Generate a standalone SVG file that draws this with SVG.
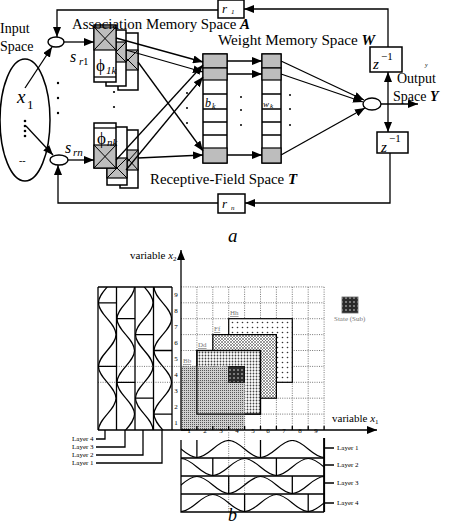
<svg xmlns="http://www.w3.org/2000/svg" width="450" height="526" viewBox="0 0 450 526">
<style>
text{font-family:"Liberation Serif","Times New Roman",serif;fill:#000}
.ln{stroke:#000;stroke-width:1.3;fill:none}
.ar{stroke:#000;stroke-width:1.3;fill:none;marker-end:url(#ah)}
.box{fill:#fff;stroke:#000;stroke-width:1.5}
.g{fill:#bdbdbd;stroke:#000;stroke-width:1.2}
.x{stroke:#000;stroke-width:1}
.grid{stroke:#555;stroke-width:0.8;stroke-dasharray:1 1.3;fill:none}
.tiny{font-size:7px;fill:#777}
.wv{stroke:#000;stroke-width:1.2;fill:none}
.it{font-style:italic}
.bi{font-style:italic;font-weight:bold}
</style>
<defs>
<marker id="ah" viewBox="0 0 10 8" refX="10" refY="4" markerWidth="10" markerHeight="8" markerUnits="userSpaceOnUse" orient="auto"><path d="M0,0 L10,4 L0,8 z"/></marker>
<pattern id="p1" width="2" height="2" patternUnits="userSpaceOnUse"><rect width="2" height="2" fill="#cfcfcf"/><rect width="1" height="1" fill="#555"/></pattern>
<pattern id="p2" width="3" height="3" patternUnits="userSpaceOnUse"><rect width="3" height="3" fill="#fff"/><circle cx="1.5" cy="1.5" r="0.9" fill="#444"/></pattern>
<pattern id="p3" width="3" height="3" patternUnits="userSpaceOnUse"><rect width="3" height="3" fill="#fff"/><path d="M0,0 L3,3 M3,0 L0,3" stroke="#555" stroke-width="0.6"/></pattern>
<pattern id="p4" width="5" height="5" patternUnits="userSpaceOnUse"><rect width="5" height="5" fill="#fff"/><circle cx="2.5" cy="2.5" r="0.8" fill="#333"/></pattern>
<pattern id="pd" width="4" height="4" patternUnits="userSpaceOnUse"><rect width="4" height="4" fill="#2a2a2a"/><circle cx="2" cy="2" r="0.8" fill="#ddd"/></pattern>
<path id="hw" d="M0,17.5 C11.58,17.5 20.22,0.5 31.8,0.5 S52.02,17.5 63.6,17.5 S83.82,0.5 95.4,0.5 S115.62,17.5 127.2,17.5 S147.42,0.5 159,0.5 S179.22,17.5 190.8,17.5 S211.02,0.5 222.6,0.5 S242.82,17.5 254.4,17.5"/>
<path id="vw" d="M0.5,0 C0.5,11.58 18,20.22 18,31.8 S0.5,52.02 0.5,63.6 S18,83.82 18,95.4 S0.5,115.62 0.5,127.2 S18,147.42 18,159 S0.5,179.22 0.5,190.8 S18,211.02 18,222.6"/>
<clipPath id="cb"><rect x="181" y="440" width="143.1" height="72"/></clipPath>
<clipPath id="cl"><rect x="98" y="287" width="74" height="143"/></clipPath>
</defs>

<!-- ===== Part a ===== -->
<g id="input-space">
<ellipse cx="25" cy="120" rx="25" ry="61" fill="none" stroke="#000" stroke-width="1.5"/>
<text x="0" y="33" font-size="14">Input</text>
<text x="0" y="51" font-size="14">Space</text>
<text x="17" y="103" font-size="19" class="it">x</text><text x="27" y="109" font-size="13">1</text>
<circle cx="25" cy="121" r="1.3"/><circle cx="25" cy="126" r="1.3"/><circle cx="25" cy="131" r="1.3"/><circle cx="25" cy="136" r="1.3"/>
<text x="19" y="164" font-size="10">--</text>
</g>
<g id="sum-1"><ellipse cx="56" cy="42" rx="8" ry="5" fill="#fff" stroke="#000" stroke-width="1.4"/></g>
<g id="sum-n"><ellipse cx="59" cy="160" rx="9" ry="5" fill="#fff" stroke="#000" stroke-width="1.4"/></g>
<g id="labels-s">
<text x="70" y="62" font-size="16" class="it">s</text><text x="79" y="65" font-size="11" class="it">r</text><text x="83" y="65" font-size="11">1</text>
<text x="65" y="153" font-size="16" class="it">s</text><text x="73" y="156" font-size="11" class="it">rn</text>
</g>
<g id="dots-a" fill="#000">
<circle cx="58" cy="83" r="1.2"/><circle cx="58" cy="98" r="1.2"/><circle cx="58" cy="113" r="1.2"/>
<circle cx="114" cy="92" r="1.1"/><circle cx="114" cy="107" r="1.1"/>
<circle cx="187" cy="93" r="1"/><circle cx="187" cy="108" r="1"/><circle cx="187" cy="123" r="1"/>
<circle cx="241" cy="97" r="1"/><circle cx="241" cy="110" r="1"/><circle cx="241" cy="125" r="1"/>
<circle cx="290" cy="95" r="1"/><circle cx="290" cy="109" r="1"/><circle cx="290" cy="125" r="1"/>
</g>

<g id="assoc-top">
<rect class="box" x="118" y="33" width="20" height="57"/><rect class="g" x="118" y="50" width="20" height="20"/><path class="x" d="M118,50 L138,70 M118,70 L138,50"/>
<rect class="box" x="106" y="30" width="20" height="56"/><rect class="g" x="106" y="42" width="20" height="20"/><path class="x" d="M106,42 L126,62 M106,62 L126,42"/>
<rect class="box" x="94" y="25" width="22" height="57"/><rect class="g" x="94" y="27" width="22" height="23"/><path class="x" d="M94,27 L116,50 M94,50 L116,27"/>
<line class="ln" x1="94" y1="77" x2="116" y2="77"/>
<text x="96" y="71" font-size="17">ϕ</text><text x="106" y="74" font-size="11" class="it">1k</text>
</g>
<g id="assoc-bottom">
<rect class="box" x="120" y="130" width="18" height="58"/><rect class="g" x="120" y="150" width="18" height="20"/><path class="x" d="M120,150 L138,170 M120,170 L138,150"/>
<rect class="box" x="107" y="127" width="20" height="58"/><rect class="g" x="107" y="158" width="20" height="20"/><path class="x" d="M107,158 L127,178 M107,178 L127,158"/>
<rect class="box" x="94" y="123" width="22" height="45"/><rect class="g" x="94" y="145" width="22" height="23"/><path class="x" d="M94,145 L116,168 M94,168 L116,145"/>
<line class="ln" x1="94" y1="128" x2="116" y2="128"/>
<text x="97" y="144" font-size="17">ϕ</text><text x="107" y="146" font-size="11" class="it">nk</text>
</g>

<g id="T-space">
<rect x="203" y="54" width="24" height="109" fill="#fff" stroke="#000" stroke-width="1.5"/>
<rect class="g" x="203" y="54" width="24" height="14"/><rect class="g" x="203" y="68" width="24" height="12"/><rect class="g" x="203" y="148" width="24" height="15"/>
<path class="ln" d="M203,94 H227 M203,109 H227 M203,122 H227 M203,135 H227"/>
<text x="205" y="107" font-size="12" class="it">b</text><text x="212" y="109" font-size="8" class="it">k</text>
</g>
<g id="W-space">
<rect x="262" y="54" width="19" height="109" fill="#fff" stroke="#000" stroke-width="1.5"/>
<rect class="g" x="262" y="54" width="19" height="14"/><rect class="g" x="262" y="68" width="19" height="12"/><rect class="g" x="262" y="148" width="19" height="15"/>
<path class="ln" d="M262,94 H281 M262,109 H281 M262,122 H281 M262,135 H281"/>
<text x="263" y="107" font-size="9" class="it">w</text><text x="270" y="108" font-size="7" class="it">k</text>
</g>
<g id="r1"><rect class="box" x="218" y="0" width="26" height="18"/><text x="222" y="13" font-size="13" class="it">r</text><text x="231" y="13.5" font-size="7" class="it">1</text></g>
<g id="rn"><rect class="box" x="218" y="194" width="27" height="19"/><text x="222" y="208" font-size="13" class="it">r</text><text x="231" y="210" font-size="7" class="it">n</text></g>
<g id="z-top"><rect class="box" x="370" y="47" width="32" height="25"/><text x="373" y="69" font-size="15" class="it">z</text><text x="381" y="60" font-size="11">−1</text></g>
<g id="z-bottom"><rect class="box" x="377" y="132" width="31" height="21"/><text x="381" y="152" font-size="15" class="it">z</text><text x="389" y="142" font-size="11">−1</text></g>
<g id="output">
<ellipse cx="372" cy="104" rx="9" ry="6" fill="#fff" stroke="#000" stroke-width="1.4"/>
<text x="425" y="67" font-size="6" class="it">y</text>
<text x="397" y="83" font-size="14">Output</text>
<text x="393" y="101" font-size="14">Space <tspan class="bi">Y</tspan></text>
</g>
<g id="titles-a">
<text x="72" y="29" font-size="15" textLength="178" lengthAdjust="spacingAndGlyphs">Association Memory Space <tspan class="bi">A</tspan></text>
<text x="218" y="45" font-size="15" textLength="157" lengthAdjust="spacingAndGlyphs">Weight Memory Space <tspan class="bi">W</tspan></text>
<text x="150" y="184" font-size="15" textLength="147" lengthAdjust="spacingAndGlyphs">Receptive-Field Space <tspan class="bi">T</tspan></text>
<text x="228" y="242" font-size="19" class="it">a</text>
</g>

<g id="connectors-a">
<line class="ar" x1="25" y1="88" x2="52" y2="47"/>
<line class="ar" x1="26" y1="126" x2="53" y2="155"/>
<line class="ar" x1="64" y1="42" x2="94" y2="42"/>
<line class="ar" x1="68" y1="160" x2="94" y2="160"/>
<line class="ar" x1="116" y1="38" x2="203" y2="62"/>
<line class="ar" x1="126" y1="50" x2="203" y2="72"/>
<line class="ar" x1="138" y1="62" x2="203" y2="151"/>
<line class="ar" x1="116" y1="160" x2="203" y2="65"/>
<line class="ar" x1="126" y1="170" x2="203" y2="77"/>
<line class="ar" x1="138" y1="158" x2="203" y2="155"/>
<line class="ar" x1="227" y1="61" x2="262" y2="61"/>
<line class="ar" x1="227" y1="74" x2="262" y2="74"/>
<line class="ar" x1="227" y1="155" x2="262" y2="155"/>
<line class="ar" x1="281" y1="61" x2="364" y2="100"/>
<line class="ar" x1="281" y1="74" x2="363" y2="102"/>
<line class="ar" x1="281" y1="155" x2="365" y2="108"/>
<line class="ar" x1="381" y1="104" x2="418" y2="104"/>
<line class="ar" x1="388" y1="104" x2="388" y2="72"/>
<line class="ar" x1="388" y1="104" x2="388" y2="132"/>
<polyline class="ar" points="388,47 388,9 244,9"/>
<polyline class="ar" points="218,10 57,10 57,37"/>
<polyline class="ar" points="390,153 390,203 245,203"/>
<polyline class="ar" points="218,203 58,203 58,165"/>
</g>

<!-- ===== Part b ===== -->
<g id="grid">
<path class="grid" d="M196.9,287 V430 M212.8,287 V430 M228.7,287 V430 M244.6,287 V430 M260.5,287 V430 M276.4,287 V430 M292.3,287 V430 M308.2,287 V430 M324.1,287 V430"/>
<path class="grid" d="M181,286.9 H324.1 M181,302.8 H324.1 M181,318.7 H324.1 M181,334.6 H324.1 M181,350.5 H324.1 M181,366.4 H324.1 M181,382.3 H324.1 M181,398.2 H324.1 M181,414.1 H324.1"/>
</g>
<g id="hypercubes">
<rect x="228.7" y="318.7" width="63.6" height="63.6" fill="url(#p4)" stroke="#000" stroke-width="1.2"/>
<rect x="212.8" y="334.6" width="63.6" height="63.6" fill="url(#p3)" stroke="#000" stroke-width="1.2"/>
<rect x="196.9" y="350.5" width="63.6" height="63.6" fill="url(#p2)" stroke="#000" stroke-width="1.2"/>
<rect x="181" y="366.4" width="63.6" height="63.6" fill="url(#p1)"/>
<rect x="196.9" y="350.5" width="63.6" height="63.6" fill="none" stroke="#000" stroke-width="1.2"/>
<rect x="228.7" y="366.4" width="15.9" height="15.9" fill="url(#pd)" stroke="#000" stroke-width="0.8"/>
<text class="tiny" x="183" y="363" font-size="6" text-decoration="underline">Bb</text>
<text class="tiny" x="198" y="347" font-size="6" text-decoration="underline">Dd</text>
<text class="tiny" x="214" y="331" font-size="6" text-decoration="underline">Ff</text>
<text class="tiny" x="230" y="315" font-size="6" text-decoration="underline">Hh</text>
</g>
<g id="axes">
<line class="ar" x1="181" y1="430" x2="181" y2="250"/>
<line class="ar" x1="181" y1="430" x2="377" y2="430"/>
<text x="130" y="259" font-size="11">variable <tspan class="it">x</tspan><tspan font-size="7" dy="2">2</tspan></text>
<text x="332" y="422" font-size="11">variable <tspan class="it">x</tspan><tspan font-size="7" dy="2">1</tspan></text>
<g class="tiny" text-anchor="middle" font-size="7">
<text x="176" y="425">1</text><text x="176" y="409">2</text><text x="176" y="393">3</text><text x="176" y="377">4</text><text x="176" y="361">5</text><text x="176" y="345">6</text><text x="176" y="329">7</text><text x="176" y="313">8</text><text x="176" y="297">9</text>
<text x="189" y="433">1</text><text x="205" y="433">2</text><text x="221" y="433">3</text><text x="237" y="433">4</text><text x="253" y="433">5</text><text x="268" y="433">6</text><text x="284" y="433">7</text><text x="300" y="433">8</text><text x="316" y="433">9</text>
</g>
<path class="ln" stroke-width="1" d="M196.9,426 V430 M212.8,426 V430 M228.7,426 V430 M244.6,426 V430 M260.5,426 V430 M276.4,426 V430 M292.3,426 V430 M308.2,426 V430 M324.1,426 V430"/>
</g>
<g id="legend">
<rect x="342" y="297" width="16" height="16" fill="url(#pd)" stroke="#666" stroke-width="0.8"/>
<text class="tiny" x="334" y="321" font-size="6">State (Sub)</text>
</g>
<g id="projections">
<path class="grid" stroke="#333" d="M98,366.4 H228.7 M98,382.3 H228.7 M228.7,430 V512 M244.6,430 V512"/>
</g>
<g id="layers-x2">
<path class="ln" d="M98,287 H172 M98,287 V430 M116.5,287 V430 M135,287 V430 M153.5,287 V430 M172,287 V430 M98,430 H190"/>
<path class="ln" d="M98,302.8 H116.5 M98,366.4 H116.5 M116.5,318.7 H135 M116.5,382.3 H135 M135,334.6 H153.5 M135,398.2 H153.5 M153.5,350.5 H172 M153.5,414.1 H172"/>
<g clip-path="url(#cl)" class="wv">
<use href="#vw" x="98" y="239.2"/>
<use href="#vw" x="116.5" y="255.1"/>
<use href="#vw" x="135" y="271"/>
<use href="#vw" x="153.5" y="286.9"/>
</g>
<path class="ln" stroke-width="1" d="M96,439 H105 V430 M96,447 H125 V430 M96,455 H143 V430 M96,463 H162 V430"/>
<g class="tiny" font-size="8"><text x="72" y="441">Layer 4</text><text x="72" y="449">Layer 3</text><text x="72" y="457">Layer 2</text><text x="72" y="465">Layer 1</text></g>
</g>
<g id="layers-x1">
<path class="ln" d="M181,440 V512 H324.1 M181,458 H324.1 M181,476 H324.1 M181,494 H324.1"/>
<line x1="324.1" y1="438" x2="324.1" y2="512" stroke="#000" stroke-width="2"/>
<path class="ln" d="M196.9,440 V458 M260.5,440 V458 M212.8,458 V476 M276.4,458 V476 M228.7,476 V494 M292.3,476 V494 M244.6,494 V512 M308.2,494 V512"/>
<g clip-path="url(#cb)" class="wv">
<use href="#hw" x="133.3" y="440"/>
<use href="#hw" x="149.2" y="458"/>
<use href="#hw" x="165.1" y="476"/>
<use href="#hw" x="181" y="494"/>
</g>
<path class="ln" stroke-width="1" d="M324,448 H334 M324,465 H334 M324,483 H334 M324,503 H334"/>
<g class="tiny" font-size="8"><text x="337" y="450">Layer 1</text><text x="337" y="467">Layer 2</text><text x="337" y="485">Layer 3</text><text x="337" y="505">Layer 4</text></g>
<text x="228" y="521" font-size="18" class="it">b</text>
</g>
</svg>
